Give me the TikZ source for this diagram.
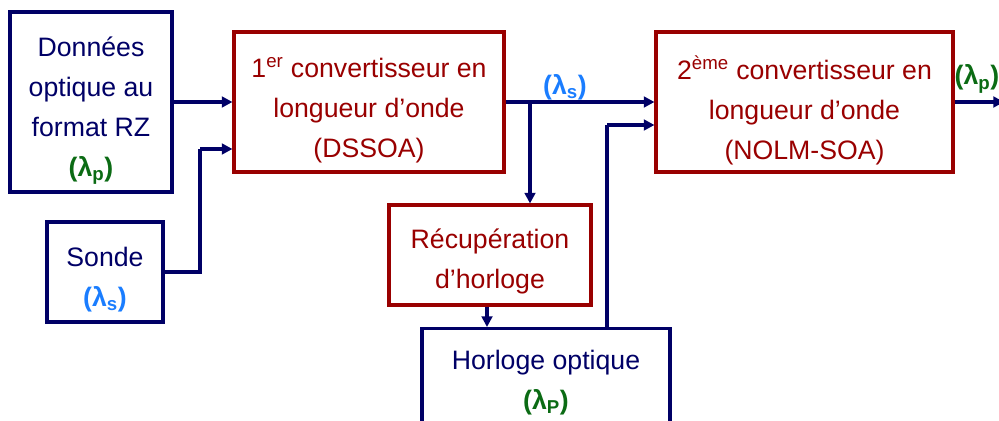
\documentclass[tikz,border=0pt]{standalone}
\usepackage{fontspec}
\setmainfont{Liberation Sans}
\usetikzlibrary{arrows.meta,calc}
\definecolor{navy}{HTML}{000066}
\definecolor{dred}{HTML}{990000}
\definecolor{lgreen}{HTML}{0B6B14}
\definecolor{lblue}{HTML}{1A7DFF}
\begin{document}
\begin{tikzpicture}[x=0.75pt,y=-0.75pt,
  nbox/.style={draw=navy,line width=2.3pt,inner sep=0pt},
  rbox/.style={draw=dred,line width=2.3pt,inner sep=0pt},
  ntxt/.style={text=navy,align=center,inner sep=0pt,font=\fontsize{20}{30}\selectfont},
  rtxt/.style={text=dred,align=center,inner sep=0pt,font=\fontsize{20}{30}\selectfont},
  link/.style={draw=navy,line width=3pt},
  arr/.style={link,-{Triangle[length=8pt,width=8pt]}},
  lam/.style={font=\fontsize{20}{24}\selectfont\bfseries,inner sep=0pt}
]
\useasboundingbox (0,0) rectangle (999,421);
% boxes
\node[nbox,minimum width=121.5pt,minimum height=135pt] (don) at (91,102) {};
\node[nbox,minimum width=87pt,minimum height=75pt] (son) at (105,272) {};
\node[rbox,minimum width=202.5pt,minimum height=105pt] (c1) at (369,102) {};
\node[rbox,minimum width=222.75pt,minimum height=105pt] (c2) at (804.5,102) {};
\node[rbox,minimum width=151.5pt,minimum height=75pt] (rec) at (490,255) {};
\node[nbox,minimum width=186pt,minimum height=105pt,anchor=north] (hor) at (546,327) {};
% texts
\node[ntxt] (donT) at ($(don.center)+(0,9)$)
  {Données\\optique au\\format RZ\\\textcolor{lgreen}{\textbf{(λ\textsubscript{p})}}};
\node[ntxt] (sonT) at ($(son.center)+(0,7.5)$)
  {Sonde\\\textcolor{lblue}{\textbf{(λ\textsubscript{s})}}};
\node[rtxt] (c1T) at ($(c1.center)+(0,8)$)
  {1\textsuperscript{er} convertisseur en\\longueur d’onde\\(DSSOA)};
\node[rtxt] (c2T) at ($(c2.center)+(0,8)$)
  {2\textsuperscript{ème} convertisseur en\\longueur d’onde\\(NOLM-SOA)};
\node[rtxt] (recT) at ($(rec.center)+(0,6.5)$)
  {Récupération\\d’horloge};
\node[ntxt] (horT) at (546,382.5)
  {Horloge optique\\\textcolor{lgreen}{\textbf{(λ\textsubscript{P})}}};
% connectors
\coordinate (jog) at (200,149);
\coordinate (c1in) at (c1.west |- jog);
\coordinate (br) at (530,102);
\coordinate (rs) at ($(rec.south)+(-3,0)$);
\coordinate (up) at (607,125);
\coordinate (c2in) at (c2.west |- up);
\coordinate (out) at (1004,102);
\draw[arr] (don.east) -- (don.east -| c1.west);
\draw[link] (son.east) -| (jog);
\draw[arr] (jog) -- (c1in);
\draw[arr] (c1.east) -- (c2.west);
\draw[arr] (br) -- (br |- rec.north);
\draw[arr] (rs) -- (rs |- hor.north);
\draw[link] (hor.north -| up) -- (up);
\draw[arr] (up) -- (c2in);
\draw[arr] (c2.east) -- (out);
\node[lam,text=lblue] (ls) at (565,87) {(λ\textsubscript{s})};
\node[lam,text=lgreen] (lp) at (977,79) {(λ\textsubscript{p})};
\end{tikzpicture}
\end{document}
